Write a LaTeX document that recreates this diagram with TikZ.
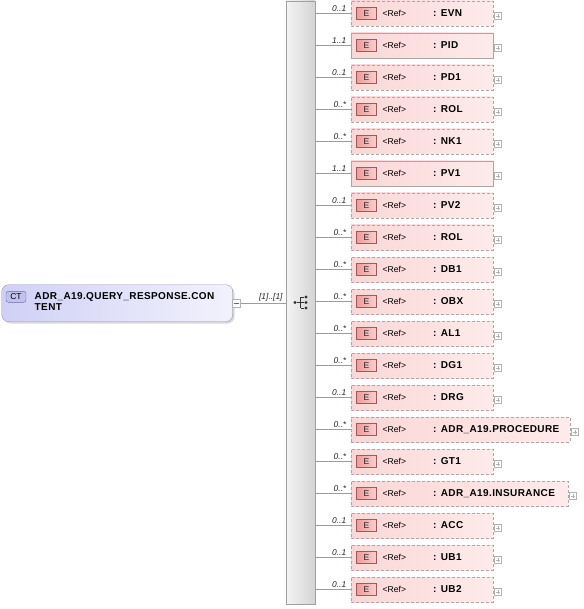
\documentclass[tikz,border=0pt]{standalone}
\usepackage{fontspec}
\setmainfont{Liberation Sans}
\newfontfamily\namefont{Liberation Sans}[LetterSpace=4]
\usetikzlibrary{calc}
\definecolor{eborder}{HTML}{A8A8A8}
\definecolor{pinkL}{HTML}{FBD6D6}
\definecolor{pinkR}{HTML}{FDEBEB}
\definecolor{badgeB}{HTML}{A05858}
\definecolor{badgeL}{HTML}{EE9C9C}
\definecolor{badgeR}{HTML}{F9CFCF}
\definecolor{ctL}{HTML}{D0D0F6}
\definecolor{ctR}{HTML}{F2F2FD}
\definecolor{ctB}{HTML}{9A9AB0}
\definecolor{ctbadge}{HTML}{C2C2EE}
\definecolor{ctbadgeB}{HTML}{6A6AA8}
\definecolor{barL}{HTML}{F4F4F4}
\definecolor{barR}{HTML}{D4D4D4}
\definecolor{barB}{HTML}{A0A0A0}
\definecolor{lineC}{HTML}{9C9C9C}
\definecolor{shadowC}{HTML}{D8D8D8}
\begin{document}
\begin{tikzpicture}[x=1pt,y=-1pt,font=\fontsize{8}{9.6}\selectfont,
  ebase/.style={rectangle, minimum height=25, inner sep=0, left color=pinkL, right color=pinkR, anchor=west},
  eopt/.style={ebase, draw=eborder, dash pattern=on 3pt off 2pt, line width=0.6pt},
  ereq/.style={ebase, draw=eborder, line width=0.6pt},
  ebadge/.style={rectangle, draw=badgeB, left color=badgeL, right color=badgeR, minimum width=20, minimum height=12, inner sep=0, text=black!85, font=\fontsize{8.5}{9}\selectfont},
  reftxt/.style={anchor=west, inner sep=0, font=\fontsize{8.6}{10}\selectfont},
  nametxt/.style={anchor=west, inner sep=0, font=\namefont\bfseries\fontsize{10}{12}\selectfont},
  mult/.style={font=\itshape\fontsize{8.4}{9}\selectfont, inner sep=0, text=black!85},
  conn/.style={draw=lineC, line width=0.6pt},
  plusbox/.style={rectangle, draw=gray!60, fill=white, minimum size=7, inner sep=0},
  seqdot/.style={circle, fill=black!80, inner sep=0, minimum size=3.2}
]
\useasboundingbox (0,0) rectangle (583,609);

% sequence bar
\node[rectangle, draw=barB, left color=barL, right color=barR, minimum width=29, minimum height=603, inner sep=0] (bar) at (300.5,302.5) {};

% sequence icon
\node[seqdot] (sd0) at (295,302.5) {};
\coordinate (sv) at (300.5,302.5);
\node[seqdot] (sd1) at (306,297) {};
\node[seqdot] (sd2) at (306,302.5) {};
\node[seqdot] (sd3) at (306,308) {};
\draw[black!80, line width=0.8pt] (sd0) -- (sv) (sv |- sd1) -- (sv |- sd3)
  (sv |- sd1) -- (sd1) (sv) -- (sd2) (sv |- sd3) -- (sd3);

% complex type node
\fill[shadowC, rounded corners=7pt] (3.5,286.5) rectangle (234.5,323.5);
\node[rectangle, rounded corners=7pt, draw=ctB, left color=ctL, right color=ctR, minimum width=231, minimum height=37, inner sep=0, anchor=north west] (ct) at (1.5,284.5) {};
\node[rectangle, rounded corners=2.5pt, draw=ctbadgeB, fill=ctbadge, minimum width=20, minimum height=11, inner sep=0, font=\fontsize{8.5}{9}\selectfont] (ctb) at (16,296.8) {CT};
\node[anchor=north west, inner sep=0, align=left, font=\namefont\bfseries\fontsize{10}{11}\selectfont] (ctt) at (34.5,292) {ADR\_A19.QUERY\_RESPONSE.CON\\TENT};
\node[plusbox, minimum size=8] (ctm) at (236.5,303) {};
\draw[black!60] ([xshift=1.6pt]ctm.west) -- ([xshift=-1.6pt]ctm.east);
\draw[conn] (ctm.east) -- node[pos=1, anchor=south east, mult, xshift=-3pt, yshift=1.5pt] {[1]..[1]} (bar.west |- ctm.east);

% element rows
\foreach \i/\nm/\mlt/\st/\w in {
  0/EVN/0..1/eopt/142,
  1/PID/1..1/ereq/142,
  2/PD1/0..1/eopt/142,
  3/ROL/0..*/eopt/142,
  4/NK1/0..*/eopt/142,
  5/PV1/1..1/ereq/142,
  6/PV2/0..1/eopt/142,
  7/ROL/0..*/eopt/142,
  8/DB1/0..*/eopt/142,
  9/OBX/0..*/eopt/142,
  10/AL1/0..*/eopt/142,
  11/DG1/0..*/eopt/142,
  12/DRG/0..1/eopt/142,
  13/ADR\_A19.PROCEDURE/0..*/eopt/219,
  14/GT1/0..*/eopt/142,
  15/ADR\_A19.INSURANCE/0..*/eopt/217,
  16/ACC/0..1/eopt/142,
  17/UB1/0..1/eopt/142,
  18/UB2/0..1/eopt/142}{
  \pgfmathsetmacro{\yy}{13.5+32*\i}
  \node[\st, minimum width=\w] (r\i) at (350.5,\yy) {};
  \node[ebadge] (e\i) at (366.5,\yy) {E};
  \node[reftxt] (f\i) at (382.5,\yy) {<Ref>};
  \node[nametxt] (n\i) at (433,\yy) {: \nm};
  \node[plusbox] (p\i) at ($(r\i.east)+(5,2.5)$) {};
  \draw[gray!60, line width=0.4pt] ([xshift=1.5pt]p\i.west) -- ([xshift=-1.5pt]p\i.east)
     ([yshift=-1.5pt]p\i.north) -- ([yshift=1.5pt]p\i.south);
  \draw[conn] (bar.east |- r\i.west) -- node[pos=1, anchor=south east, mult, xshift=-4pt, yshift=2pt] {\mlt} (r\i.west);
}
\end{tikzpicture}
\end{document}
